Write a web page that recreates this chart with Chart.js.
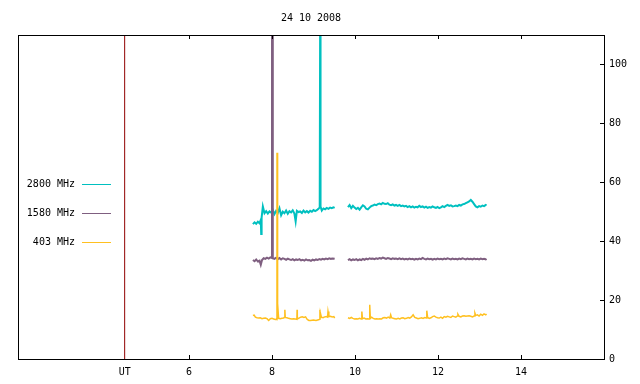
<!DOCTYPE html>
<html>
<head>
<meta charset="utf-8">
<script src="https://cdn.jsdelivr.net/npm/chart.js@4/dist/chart.umd.min.js"></script>
<style>
  html, body { margin: 0; padding: 0; background: #fff; }
  #wrap { width: 640px; height: 384px; }
</style>
</head>
<body>
<div id="wrap"><canvas id="solarChart" width="640" height="384"></canvas></div>
<script>
const chartTitle = '24 10 2008';
const utPos = 4.45;              // position of the UT marker
const xTicks = [utPos, 6, 8, 10, 12, 14];
const yTicks = [0, 20, 40, 60, 80, 100];

// 2800 MHz
const t2800 = [7.54, 7.58, 7.62, 7.66, 7.70, 7.73, 7.74, 7.75, 7.78, 7.82, 7.86, 7.90, 7.94, 7.98, 8.02, 8.06,
  8.10, 8.14, 8.18, 8.22, 8.26, 8.30, 8.34, 8.38, 8.42, 8.46, 8.50, 8.54, 8.57, 8.60, 8.64, 8.68, 8.72, 8.76,
  8.80, 8.84, 8.88, 8.92, 8.96, 9.00, 9.04, 9.08, 9.12, 9.15, 9.16, 9.17, 9.20, 9.24, 9.28, 9.32, 9.36, 9.40,
  9.44, 9.48, 9.51, 9.67,
  9.83, 9.87, 9.91, 9.95, 9.99, 10.03, 10.07, 10.11, 10.15, 10.19, 10.23, 10.27, 10.31, 10.35, 10.39, 10.43,
  10.47, 10.51, 10.55, 10.59, 10.63, 10.67, 10.71, 10.75, 10.79, 10.83, 10.87, 10.91, 10.95, 10.99, 11.03,
  11.07, 11.11, 11.15, 11.19, 11.23, 11.27, 11.31, 11.35, 11.39, 11.43, 11.47, 11.51, 11.55, 11.59, 11.63,
  11.67, 11.71, 11.75, 11.79, 11.83, 11.87, 11.91, 11.95, 11.99, 12.03, 12.07, 12.11, 12.15, 12.19, 12.23,
  12.27, 12.31, 12.35, 12.39, 12.43, 12.47, 12.51, 12.55, 12.59, 12.63, 12.67, 12.71, 12.75, 12.79, 12.83,
  12.87, 12.91, 12.95, 12.99, 13.03, 13.07, 13.11, 13.15, 13.17];
const v2800 = [45.8, 46.4, 45.9, 46.6, 46.1, 47.2, 42.4, 48.0, 51.8, 49.5, 50.2, 49.4, 50.1, 49.7, 50.6, 49.2,
  50.3, 49.6, 51.2, 48.8, 50.0, 49.5, 50.4, 49.3, 50.2, 49.8, 50.5, 49.4, 46.7, 50.3, 49.9, 50.1, 49.6, 50.4,
  49.8, 50.2, 49.7, 50.3, 50.0, 50.6, 50.2, 50.5, 51.0, 51.5, 112, 51.8, 50.4, 51.1, 50.8, 51.3, 51.0, 51.4,
  51.2, 51.5, 51.3, null,
  51.6, 52.3, 51.2, 52.0, 51.4, 50.9, 51.3, 50.7, 51.5, 52.2, 51.8, 51.0, 50.8, 51.4, 51.9, 52.1,
  52.4, 52.2, 52.6, 52.8, 52.5, 53.0, 52.7, 52.6, 52.9, 52.4, 52.2, 52.5, 52.1, 52.3, 52.0,
  52.3, 51.9, 52.1, 51.8, 52.0, 51.6, 51.9, 51.5, 51.8, 51.4, 51.7, 51.5, 52.0, 51.6, 51.8,
  51.4, 51.7, 51.3, 51.6, 51.4, 51.8, 51.5, 51.3, 51.6, 51.2, 51.5, 51.9, 51.6, 52.0, 52.3,
  52.0, 52.2, 51.8, 51.9, 52.1, 51.9, 52.3, 52.1, 52.5, 52.6, 52.9, 53.2, 53.5, 54.0, 53.4,
  52.6, 51.8, 51.5, 51.9, 51.7, 52.1, 51.9, 52.3, 52.1];

// 1580 MHz
const t1580 = [7.54, 7.58, 7.62, 7.66, 7.70, 7.73, 7.76, 7.80, 7.84, 7.88, 7.92, 7.96, 8.00, 8.001, 8.019, 8.02,
  8.06, 8.10, 8.14, 8.18, 8.22, 8.26, 8.30, 8.34, 8.38, 8.42, 8.46, 8.50, 8.54, 8.58, 8.62, 8.66, 8.70, 8.74,
  8.78, 8.82, 8.86, 8.90, 8.94, 8.98, 9.02, 9.06, 9.10, 9.14, 9.18, 9.22, 9.26, 9.30, 9.34, 9.38, 9.42, 9.46,
  9.51, 9.67,
  9.83, 9.87, 9.91, 9.95, 9.99, 10.03, 10.07, 10.11, 10.15, 10.19, 10.23, 10.27, 10.31, 10.35, 10.39, 10.43,
  10.47, 10.51, 10.55, 10.59, 10.63, 10.67, 10.71, 10.75, 10.79, 10.83, 10.87, 10.91, 10.95, 10.99, 11.03,
  11.07, 11.11, 11.15, 11.19, 11.23, 11.27, 11.31, 11.35, 11.39, 11.43, 11.47, 11.51, 11.55, 11.59, 11.63,
  11.67, 11.71, 11.75, 11.79, 11.83, 11.87, 11.91, 11.95, 11.99, 12.03, 12.07, 12.11, 12.15, 12.19, 12.23,
  12.27, 12.31, 12.35, 12.39, 12.43, 12.47, 12.51, 12.55, 12.59, 12.63, 12.67, 12.71, 12.75, 12.79, 12.83,
  12.87, 12.91, 12.95, 12.99, 13.03, 13.07, 13.11, 13.15, 13.17];
const v1580 = [33.6, 33.2, 33.8, 33.1, 33.4, 32.0, 33.6, 34.2, 34.0, 34.4, 34.1, 34.5, 34.3, 112, 112, 34.2,
  34.0, 34.4, 33.9, 34.3, 33.8, 34.2, 34.0, 33.7, 34.1, 33.8, 33.6, 33.9, 33.5, 33.8, 33.6, 33.9, 33.5, 33.7,
  33.4, 33.8, 33.5, 33.6, 33.3, 33.7, 33.5, 33.8, 33.6, 33.9, 33.7, 34.0, 33.8, 34.1, 33.9, 34.2, 34.0, 34.1,
  34.0, null,
  33.6, 33.9, 33.5, 33.8, 33.6, 33.9, 33.5, 33.8, 33.6, 34.0, 33.7, 34.1, 33.8, 34.2, 34.0, 34.1,
  33.9, 34.2, 34.0, 34.3, 34.1, 34.4, 34.2, 34.0, 34.3, 34.1, 33.9, 34.2, 34.0, 34.1, 33.9,
  34.2, 33.9, 34.1, 33.8, 34.0, 33.8, 34.1, 33.9, 34.0, 33.7, 34.0, 33.8, 34.1, 33.9, 34.3,
  34.0, 33.8, 34.1, 33.9, 34.0, 33.7, 34.0, 33.8, 34.1, 33.9, 34.0, 33.8, 34.1, 33.9, 34.2,
  34.0, 33.8, 34.1, 33.9, 34.0, 33.8, 34.1, 33.9, 34.2, 34.0, 33.8, 34.1, 33.9, 34.0, 33.8,
  34.1, 33.9, 34.0, 33.8, 34.1, 33.9, 34.0, 33.8, 34.0];

// 403 MHz
const t403 = [7.54, 7.57, 7.60, 7.64, 7.68, 7.72, 7.76, 7.80, 7.84, 7.88, 7.92, 7.96, 8.00, 8.04, 8.08, 8.10,
  8.12, 8.121, 8.13, 8.14, 8.16, 8.20, 8.24, 8.28, 8.30, 8.31, 8.32, 8.36, 8.40, 8.44, 8.48, 8.52, 8.56, 8.60,
  8.605, 8.61, 8.65, 8.69, 8.73, 8.77, 8.81, 8.85, 8.89, 8.93, 9.00, 9.06, 9.12, 9.15, 9.155, 9.16, 9.17, 9.19,
  9.23, 9.27, 9.31, 9.34, 9.35, 9.37, 9.41, 9.45, 9.49, 9.51, 9.67,
  9.83, 9.87, 9.91, 9.95, 9.99, 10.03, 10.07, 10.11, 10.15, 10.165, 10.18, 10.22, 10.26, 10.30, 10.34, 10.355,
  10.37, 10.40, 10.44, 10.48, 10.52, 10.56, 10.60, 10.64, 10.68, 10.72, 10.76, 10.80, 10.84, 10.86, 10.88,
  10.92, 10.96, 11.00, 11.04, 11.08, 11.12, 11.16, 11.20, 11.24, 11.28, 11.32, 11.36, 11.40, 11.44, 11.48,
  11.52, 11.56, 11.60, 11.64, 11.68, 11.72, 11.73, 11.75, 11.79, 11.83, 11.87, 11.91, 11.95, 11.99, 12.03,
  12.07, 12.11, 12.15, 12.19, 12.23, 12.27, 12.31, 12.35, 12.39, 12.43, 12.47, 12.48, 12.51, 12.55, 12.59,
  12.63, 12.67, 12.71, 12.75, 12.79, 12.83, 12.87, 12.89, 12.91, 12.95, 12.99, 13.03, 13.07, 13.11, 13.15, 13.17];
const v403 = [14.8, 14.9, 14.2, 14.0, 13.9, 14.0, 13.7, 13.8, 13.9, 13.7, 13.1, 13.7, 13.8, 13.6, 13.4, 13.5,
  13.4, 70, 13.6, 18.8, 13.8, 13.7, 13.8, 13.9, 14.2, 16.7, 14.1, 14.0, 13.8, 13.7, 13.6, 13.7, 13.6, 13.5,
  16.7, 13.6, 13.9, 14.2, 14.3, 14.1, 14.3, 13.4, 13.1, 13.1, 13.2, 13.1, 13.3, 13.5, 16.7, 14.0, 15.4, 14.2,
  14.0, 14.3, 14.4, 14.2, 16.1, 14.4, 14.5, 14.3, 14.4, 13.9, null,
  14.0, 13.8, 14.1, 13.8, 13.6, 13.7, 13.6, 13.8, 13.6, 16.1, 13.7, 13.9, 13.6, 13.7, 13.6, 18.4,
  13.8, 14.2, 13.8, 13.6, 13.7, 13.6, 13.7, 13.6, 14.0, 14.1, 13.9, 14.2, 13.9, 15.0, 14.0,
  13.8, 13.7, 13.6, 13.8, 13.6, 13.9, 14.0, 13.7, 13.8, 14.1, 13.9, 14.3, 15.0, 14.1, 13.9,
  13.7, 13.8, 14.0, 13.8, 14.1, 13.9, 16.4, 14.1, 13.8, 14.0, 14.4, 14.6, 14.2, 14.0, 13.9,
  14.2, 13.8, 14.4, 14.2, 14.5, 14.3, 14.1, 14.6, 14.4, 14.2, 14.6, 15.2, 14.5, 14.3, 14.6,
  14.7, 14.5, 14.6, 14.7, 14.5, 14.3, 14.6, 15.6, 14.8, 15.0, 14.6, 15.2, 14.8, 15.3, 15.0, 15.3];

const utLineY = [0, 110];

const toPts = (xs, ys) => xs.map((x, i) => ({ x: x, y: ys[i] }));

// title centred over the plot area
const titlePlugin = {
  id: 'plotTitle',
  afterDraw(chart) {
    const c = chart.ctx, a = chart.chartArea;
    c.save();
    c.fillStyle = '#000';
    c.font = '10px "DejaVu Sans Mono"';
    c.textAlign = 'center';
    c.textBaseline = 'middle';
    c.fillText(chartTitle, (a.left + a.right) / 2, 18);
    c.restore();
  }
};

// frame + inward ticks, gnuplot style
const framePlugin = {
  id: 'frame',
  afterDatasetsDraw(chart) {
    const c = chart.ctx, a = chart.chartArea;
    const xs = chart.scales.x, ys = chart.scales.y;
    c.save();
    c.strokeStyle = '#000';
    c.lineWidth = 1;
    c.strokeRect(Math.round(a.left) + 0.5, Math.round(a.top) + 0.5,
      Math.round(a.right - a.left), Math.round(a.bottom - a.top));
    c.beginPath();
    xTicks.forEach(v => {
      if (v === utPos) return;
      const px = Math.round(xs.getPixelForValue(v)) + 0.5;
      c.moveTo(px, a.bottom); c.lineTo(px, a.bottom - 4);
      c.moveTo(px, a.top); c.lineTo(px, a.top + 4);
    });
    yTicks.forEach(v => {
      if (v === 0) return;
      const py = Math.round(ys.getPixelForValue(v)) + 0.5;
      c.moveTo(a.right, py); c.lineTo(a.right - 4, py);
    });
    c.stroke();
    c.restore();
  }
};

// legend on the left, text then line sample
const legendPlugin = {
  id: 'sideLegend',
  afterDraw(chart) {
    const c = chart.ctx;
    c.save();
    c.font = '10px "DejaVu Sans Mono"';
    c.textAlign = 'right';
    c.textBaseline = 'middle';
    chart.data.datasets.forEach((ds, i) => {
      if (!ds.label) return;
      const y = 184.5 + i * 29;
      c.fillStyle = '#000';
      c.fillText(ds.label, 75, y);
      c.strokeStyle = ds.borderColor;
      c.lineWidth = 1;
      c.beginPath();
      c.moveTo(82, y); c.lineTo(111, y);
      c.stroke();
    });
    c.restore();
  }
};

new Chart(document.getElementById('solarChart'), {
  type: 'line',
  data: {
    datasets: [
      { label: '2800 MHz', data: toPts(t2800, v2800), borderColor: '#00c0c0', borderWidth: 2, order: 3 },
      { label: '1580 MHz', data: toPts(t1580, v1580), borderColor: '#7f5f80', borderWidth: 2, order: 2 },
      { label: '403 MHz', data: toPts(t403, v403), borderColor: '#ffc020', borderWidth: 1.5, order: 1 },
      { label: '', data: toPts([utPos, utPos], utLineY), borderColor: '#900000', borderWidth: 1, order: 4 }
    ]
  },
  options: {
    responsive: false,
    animation: false,
    devicePixelRatio: 1,
    layout: { padding: { top: 35, left: 18, right: 0, bottom: 0 } },
    elements: {
      point: { radius: 0 },
      line: { borderWidth: 1, tension: 0, fill: false }
    },
    plugins: {
      legend: { display: false },
      tooltip: { enabled: false },
      title: { display: false }
    },
    scales: {
      x: {
        type: 'linear',
        min: 1.88,
        max: 16,
        grid: { display: false, drawTicks: false },
        border: { display: false },
        afterBuildTicks: s => { s.ticks = xTicks.map(v => ({ value: v })); },
        afterFit: s => { s.height = 25; },
        ticks: {
          autoSkip: false,
          maxRotation: 0,
          padding: 7,
          color: '#000',
          font: { family: 'DejaVu Sans Mono', size: 10 },
          callback: v => (v === utPos ? 'UT' : v)
        }
      },
      y: {
        type: 'linear',
        position: 'right',
        min: 0,
        max: 110,
        grid: { display: false, drawTicks: false },
        border: { display: false },
        afterBuildTicks: s => { s.ticks = yTicks.map(v => ({ value: v })); },
        afterFit: s => { s.width = 36; },
        ticks: {
          padding: 5,
          color: '#000',
          font: { family: 'DejaVu Sans Mono', size: 10 }
        }
      }
    }
  },
  plugins: [framePlugin, titlePlugin, legendPlugin]
});
</script>
</body>
</html>
